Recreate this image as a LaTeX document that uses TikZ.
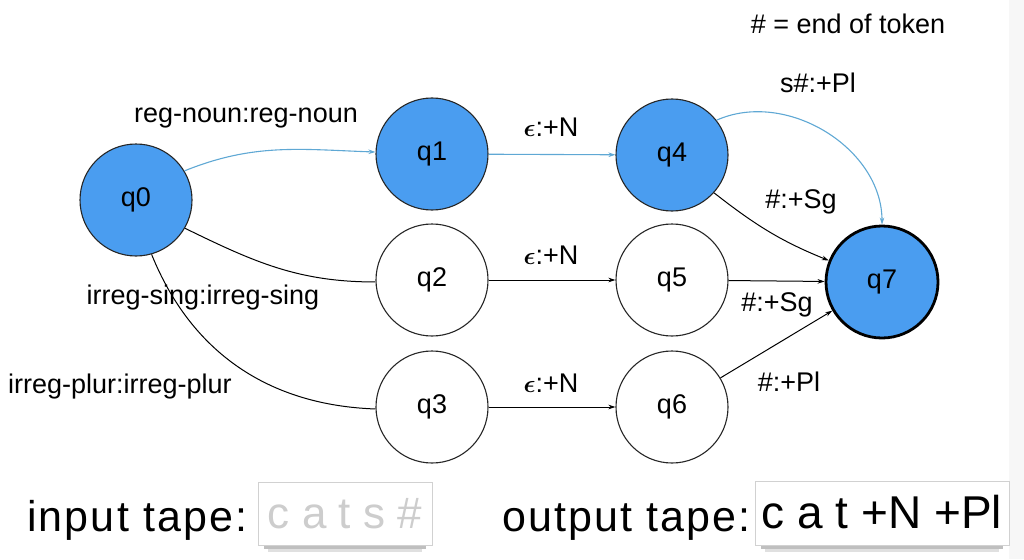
\documentclass[tikz,border=0pt]{standalone}
\usepackage{fontspec}
\setmainfont{Liberation Sans}
\newfontfamily\spacedsans[LetterSpace=5]{Liberation Sans}
\usepackage{amsmath,amsbsy}
\usetikzlibrary{arrows.meta}
\definecolor{stblue}{RGB}{74,157,240}
\definecolor{edgeblue}{RGB}{95,168,212}
\definecolor{tapegray}{RGB}{205,205,205}
\begin{document}
\begin{tikzpicture}[x=1pt,y=-1pt,
  state/.style={circle,draw=black!85,line width=1.1pt,minimum size=112pt,inner sep=0pt,font=\fontsize{27}{30}\selectfont},
  accept/.style={state,fill=stblue},
  final/.style={accept,line width=2.8pt,draw=black},
  lbl/.style={inner sep=0pt,font=\fontsize{27}{30}\selectfont},
  big/.style={inner sep=0pt,font=\spacedsans\fontsize{43}{50}\selectfont},
  tape/.style={draw=black!18,line width=1pt,fill=white},
  arr/.style={-{Stealth[length=7pt,width=4.5pt]},line width=1pt,draw=black},
  plain/.style={line width=1pt,draw=black},
  barr/.style={-{Stealth[length=7pt,width=4.5pt]},line width=1.1pt,draw=edgeblue}
]
\useasboundingbox (0,0) rectangle (1024,559);
\fill[black!3] (1009,0) rectangle (1024,559);

% states
\node[accept] (q0) at (136,200) {q0};
\node[accept] (q1) at (432,154) {q1};
\node[accept] (q4) at (672,155) {q4};
\node[state]  (q2) at (432,280) {q2};
\node[state]  (q5) at (672,280) {q5};
\node[state]  (q3) at (432,407) {q3};
\node[state]  (q6) at (672,407) {q6};
\node[final]  (q7) at (882,282) {q7};

% edges
\draw[barr] (q0.31) to[out=22,in=178] (q1.178);
\draw[barr] (q1) -- (q4);
\draw[barr] (q4.38) to[out=24,in=90] (q7.north);
\draw[arr] (q4.-42) to[out=-38,in=158] (q7.158);
\draw[arr] (q5) -- (q7);
\draw[arr] (q6.31) -- (q7.210);
\draw[plain] (q0.-30) to[out=-26,in=180] (q2.182);
\draw[plain] (q0.-74) to[out=-68,in=178] (q3.182);
\draw[arr] (q2) -- (q5);
\draw[arr] (q3) -- (q6);

% labels
\node[lbl] (eot) at (848,24) {\# = end of token};
\node[lbl] (l01) at (246,118) {reg-noun:reg-noun};
\node[lbl] (l14) at (551,127) {$\boldsymbol{\epsilon}$:+N};
\node[lbl] (l25) at (551,255) {$\boldsymbol{\epsilon}$:+N};
\node[lbl] (l36) at (551,383) {$\boldsymbol{\epsilon}$:+N};
\node[lbl] (l47a) at (818,83) {s\#:+Pl};
\node[lbl] (l47b) at (801,202) {\#:+Sg};
\node[lbl] (l57) at (777,305) {\#:+Sg};
\node[lbl] (l67) at (789,382) {\#:+Pl};
\node[lbl] (l02) at (203,298) {irreg-sing:irreg-sing};
\node[lbl] (l03) at (120,387) {irreg-plur:irreg-plur};

% tapes
\fill[black!25] (264,545) rectangle (426,549);
\fill[black!12] (268,549) rectangle (422,552);
\draw[tape] (258,482) rectangle (432,545);
\node[big,anchor=base west] (intape) at (27,531) {input tape:};
\node[inner sep=0pt,anchor=base,font=\fontsize{44}{50}\selectfont,text=tapegray] (inval) at (345,528) {c a t s \#};

\fill[black!25] (761,545) rectangle (1003,549);
\fill[black!12] (765,549) rectangle (999,552);
\draw[tape] (755,481) rectangle (1009,545);
\node[big,anchor=base west] (outtape) at (502,531) {output tape:};
\node[inner sep=0pt,anchor=base,font=\fontsize{46}{50}\selectfont] (outval) at (882,528) {c a t +N +Pl};
\end{tikzpicture}
\end{document}
